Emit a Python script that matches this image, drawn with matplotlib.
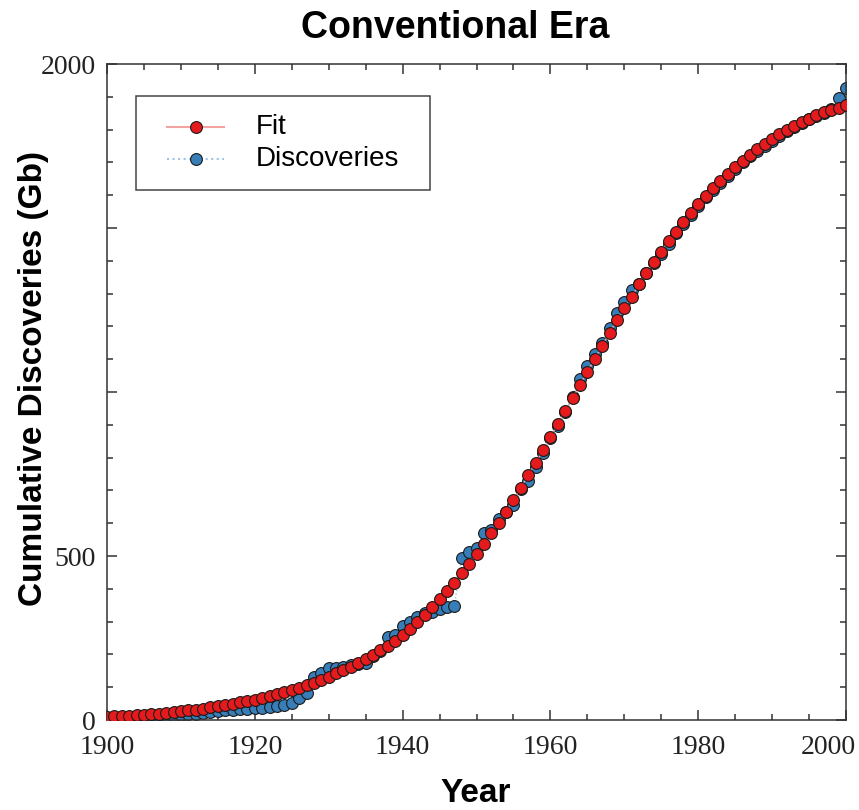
# Conventional Era - cumulative discoveries vs logistic fit
import numpy as np
import matplotlib.pyplot as plt
from matplotlib.ticker import MultipleLocator, FixedLocator
from matplotlib.lines import Line2D
from matplotlib.patches import Rectangle
from matplotlib.transforms import ScaledTranslation

# ----------------------------------------------------------------------
#  Data (Gb)
# ----------------------------------------------------------------------
years = np.arange(1900, 2001)

fit = [10, 11, 12, 13, 14, 16, 17, 19, 21, 23,
       26, 29, 32, 35, 39, 42, 46, 50, 54, 58,
       62, 67, 72, 78, 84, 91, 98, 106, 114, 123,
       132, 142, 152, 163, 175, 187, 199, 212, 226, 241,
       258, 277, 298, 320, 344, 368, 393, 419, 447, 476,
       506, 537, 569, 602, 635, 671, 708, 747, 783, 823,
       864, 902, 942, 981, 1021, 1062, 1100, 1141, 1179, 1220,
       1257, 1291, 1328, 1364, 1397, 1428, 1460, 1489, 1519, 1547,
       1572, 1598, 1621, 1643, 1664, 1685, 1704, 1723, 1740, 1755,
       1770, 1786, 1799, 1811, 1822, 1833, 1844, 1853, 1860, 1867,
       1875]

discoveries = [3, 4, 5, 6, 7, 8, 9, 10, 11, 13,
               15, 17, 19, 22, 24, 27, 29, 31, 33, 35,
               37, 38, 40, 44, 47, 52, 67, 82, 132, 142,
               158, 160, 163, 168, 170, 175, 195, 210, 254, 259,
               287, 300, 315, 326, 328, 338, 345, 349, 495, 513,
               525, 569, 578, 613, 635, 656, 705, 730, 770, 815,
               860, 895, 940, 985, 1040, 1080, 1115, 1150, 1195, 1240,
               1275, 1310, 1330, 1362, 1392, 1420, 1452, 1485, 1512, 1540,
               1566, 1594, 1615, 1636, 1658, 1680, 1700, 1718, 1735, 1751,
               1766, 1782, 1796, 1808, 1820, 1831, 1842, 1852, 1862, 1895,
               1926]

ytick_vals = [0, 500, 2000]
xtick_vals = [1900, 1920, 1940, 1960, 1980, 2000]
series_names = ['Fit', 'Discoveries']

red = '#e41a1c'
blue = '#377eb8'
red_line = '#f4a3a3'
blue_line = '#9ec3e6'
axcol = '#333333'

# ----------------------------------------------------------------------
#  Plot
# ----------------------------------------------------------------------
fig = plt.figure(figsize=(8.59, 8.10), dpi=100)
ax = fig.add_axes([107/859, 90/810, 739/859, 656/810])

ax.plot(years, discoveries, ':', color=blue_line, lw=1,
        marker='o', ms=8.5, mfc=blue, mec='#1a1a1a', mew=0.8, zorder=2)
ax.plot(years, fit, '-', color=red_line, lw=1,
        marker='o', ms=8.5, mfc=red, mec='#1a1a1a', mew=0.8, zorder=3)

ax.set_xlim(1900, 2000)
ax.set_ylim(0, 2000)

ax.xaxis.set_major_locator(FixedLocator(xtick_vals))
ax.xaxis.set_minor_locator(MultipleLocator(5))
ax.yaxis.set_major_locator(MultipleLocator(500))
ax.yaxis.set_minor_locator(MultipleLocator(100))
ax.set_yticklabels([str(v) if v in ytick_vals else '' for v in
                    [int(t) for t in ax.get_yticks()]])

ax.tick_params(which='both', direction='in', top=True, right=True,
               color=axcol, width=1.1)
ax.tick_params(which='major', length=7.5, labelsize=20)
ax.tick_params(which='minor', length=4)
ax.tick_params(axis='x', pad=11)
ax.tick_params(axis='y', pad=8)
for lab in ax.get_xticklabels() + ax.get_yticklabels():
    lab.set_family('Liberation Serif')
    lab.set_color('#222222')
# last x label sits inside the figure
last = ax.get_xticklabels()[-1]
last.set_transform(last.get_transform() +
                   ScaledTranslation(-0.18, 0, fig.dpi_scale_trans))

for sp in ax.spines.values():
    sp.set_color(axcol)
    sp.set_linewidth(1.1)

# labels and title
fig.text(476/859, 1 - 802/810, 'Year', ha='center', va='baseline',
         fontsize=24, fontweight='bold', family='Liberation Sans')
fig.text(42/859, 1 - 379/810, 'Cumulative Discoveries (Gb)', rotation=90,
         rotation_mode='anchor', ha='center', va='baseline',
         fontsize=24, fontweight='bold', family='Liberation Sans')
fig.text(455/859, 1 - 38/810, 'Conventional Era', ha='center', va='baseline',
         fontsize=27, fontweight='bold', family='Liberation Sans')

# legend box (axes fraction coordinates)
def fx(px):
    return (px - 107) / 739

def fy(py):
    return (720 - py) / 656

ax.add_patch(Rectangle((fx(136), fy(190)), fx(430) - fx(136), fy(96) - fy(190),
                       transform=ax.transAxes, fill=True, fc='white',
                       ec='#444444', lw=1.1, zorder=5))
legend_rows = [(127, red_line, '-', red), (159, blue_line, ':', blue)]
for (py, lcol, ls, mcol), name in zip(legend_rows, series_names):
    ax.add_line(Line2D([fx(167), fx(224)], [fy(py), fy(py)], color=lcol,
                       ls=ls, lw=1.5, transform=ax.transAxes, zorder=6))
    ax.add_line(Line2D([fx(196)], [fy(py)], marker='o', ms=8.5, mfc=mcol,
                       mec='#1a1a1a', mew=0.8, ls='none',
                       transform=ax.transAxes, zorder=7))
    ax.text(fx(256), fy(py), name, transform=ax.transAxes, va='center',
            ha='left', fontsize=20, family='Liberation Sans', zorder=7)

fig.savefig('out.png', dpi=100)
